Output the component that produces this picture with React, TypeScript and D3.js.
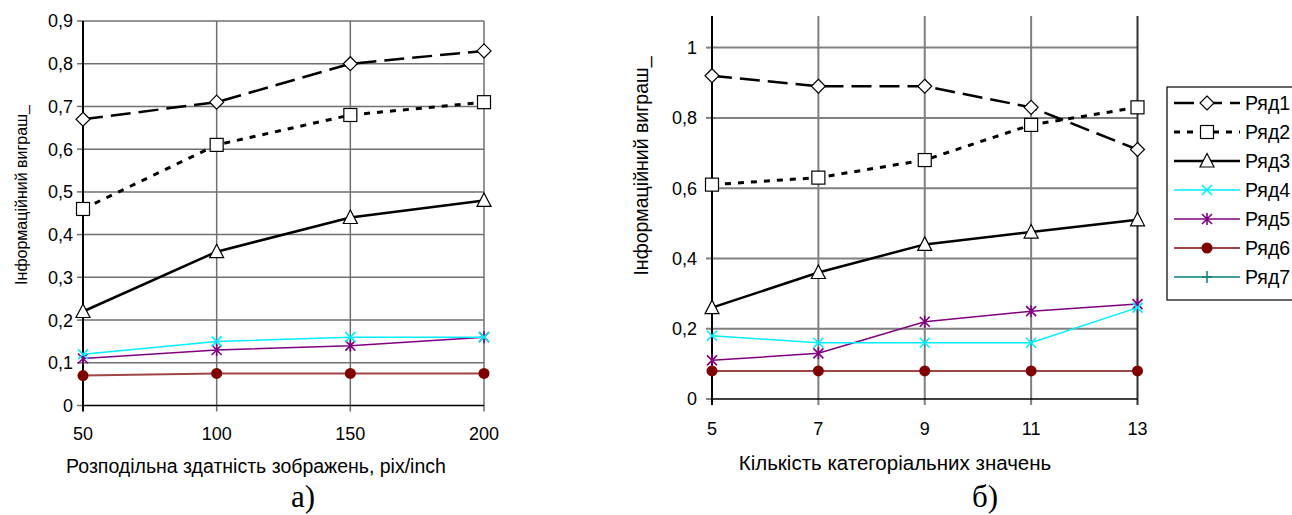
import React from "react";
import * as d3 from "d3";

// left chart: resolution, pix/inch
const resolution = [50, 100, 150, 200];
const leftRow1 = [0.67, 0.71, 0.8, 0.83];
const leftRow2 = [0.46, 0.61, 0.68, 0.71];
const leftRow3 = [0.22, 0.36, 0.44, 0.48];
const leftRow4 = [0.12, 0.15, 0.16, 0.16];
const leftRow5 = [0.11, 0.13, 0.14, 0.16];
const leftRow6 = [0.07, 0.075, 0.075, 0.075];
const leftYTicks = [0, 0.1, 0.2, 0.3, 0.4, 0.5, 0.6, 0.7, 0.8, 0.9];

// right chart: number of categorical values
const categories = [5, 7, 9, 11, 13];
const rightRow1 = [0.92, 0.89, 0.89, 0.83, 0.71];
const rightRow2 = [0.61, 0.63, 0.68, 0.78, 0.83];
const rightRow3 = [0.26, 0.36, 0.44, 0.475, 0.51];
const rightRow4 = [0.18, 0.16, 0.16, 0.16, 0.26];
const rightRow5 = [0.11, 0.13, 0.22, 0.25, 0.27];
const rightRow6 = [0.08, 0.08, 0.08, 0.08, 0.08];
const rightYTicks = [0, 0.2, 0.4, 0.6, 0.8, 1];

const seriesNames = ["Ряд1", "Ряд2", "Ряд3", "Ряд4", "Ряд5", "Ряд6", "Ряд7"];

const SANS = "'Liberation Sans', Arial, sans-serif";
const SERIF = "'Liberation Serif', 'Times New Roman', serif";

type Style = { color: string; width: number; dash?: string; marker: string };

const STYLES: Style[] = [
  { color: "#000", width: 2.5, dash: "20 8", marker: "diamond" },
  { color: "#000", width: 3, dash: "6 7", marker: "square" },
  { color: "#000", width: 2.5, marker: "triangle" },
  { color: "#00eeff", width: 1.5, marker: "x" },
  { color: "#800080", width: 1.5, marker: "star" },
  { color: "#a04444", width: 2, marker: "dot" },
  { color: "#008080", width: 1.5, marker: "plus" },
];

const fmt = (v: number) => String(+v.toFixed(2)).replace(".", ",");

function Marker({ type, x, y }: { type: string; x: number; y: number }) {
  const t = `translate(${x},${y})`;
  if (type === "diamond")
    return <path transform={t} d="M0,-7L7,0L0,7L-7,0Z" fill="#fff" stroke="#000" strokeWidth={1.2} />;
  if (type === "square")
    return <rect transform={t} x={-6.5} y={-6.5} width={13} height={13} fill="#fff" stroke="#000" strokeWidth={1.2} />;
  if (type === "triangle")
    return <path transform={t} d="M0,-7.5L7,6L-7,6Z" fill="#fff" stroke="#000" strokeWidth={1.2} />;
  if (type === "x")
    return <path transform={t} d="M-5,-5L5,5M-5,5L5,-5" stroke="#00eeff" strokeWidth={1.6} />;
  if (type === "star")
    return <path transform={t} d="M-5,-5L5,5M-5,5L5,-5M0,-6L0,6" stroke="#800080" strokeWidth={1.6} />;
  if (type === "dot") return <circle transform={t} r={5.5} fill="#800000" />;
  return <path transform={t} d="M-5,0L5,0M0,-6L0,6" stroke="#008080" strokeWidth={1.5} />;
}

type PanelProps = {
  xs: number[];
  rows: number[][];
  yTicks: number[];
  xRange: [number, number];
  yRange: [number, number]; // pixel of y=0 and y=yMaxTick
  yTop: number; // top of vertical grid lines
  grid: string;
  gridW: number;
  rightEdge: string;
  labelRight: number;
  xLabelY: number;
  fontSize: number;
};

function Panel(p: PanelProps) {
  const x = d3.scaleLinear().domain([p.xs[0], p.xs[p.xs.length - 1]]).range(p.xRange);
  const yMax = p.yTicks[p.yTicks.length - 1];
  const y = d3.scaleLinear().domain([0, yMax]).range(p.yRange);
  const x0 = p.xRange[0];
  const x1 = p.xRange[1];
  const yBottom = y(0);
  return (
    <g>
      {/* horizontal grid */}
      {p.yTicks.filter((t) => t > 0).map((t) => (
        <line key={"h" + t} x1={x0} x2={x1} y1={y(t)} y2={y(t)} stroke={p.grid} strokeWidth={p.gridW} />
      ))}
      {/* vertical grid */}
      {p.xs.slice(1).map((v, i) => (
        <line key={"v" + v} x1={x(v)} x2={x(v)} y1={p.yTop} y2={yBottom + 6}
          stroke={i === p.xs.length - 2 ? p.rightEdge : p.grid} strokeWidth={p.gridW} />
      ))}
      {/* y tick marks */}
      {p.yTicks.map((t) => (
        <line key={"yt" + t} x1={x0 - 6} x2={x0} y1={y(t)} y2={y(t)} stroke={p.grid} strokeWidth={p.gridW} />
      ))}
      {/* axes */}
      <line x1={x0} x2={x1} y1={yBottom} y2={yBottom} stroke="#000" strokeWidth={1.6} />
      <line x1={x0} x2={x0} y1={p.yTop} y2={yBottom + 6} stroke="#000" strokeWidth={2} />
      {/* tick labels */}
      {p.yTicks.map((t) => (
        <text key={"yl" + t} x={p.labelRight} y={y(t)} dy="0.36em" textAnchor="end"
          fontFamily={SANS} fontSize={p.fontSize}>{fmt(t)}</text>
      ))}
      {p.xs.map((v) => (
        <text key={"xl" + v} x={x(v)} y={p.xLabelY} textAnchor="middle"
          fontFamily={SANS} fontSize={p.fontSize}>{v}</text>
      ))}
      {/* series, drawn bottom-up so black lines sit on top */}
      {p.rows.map((row, si) => ({ row, si })).reverse().map(({ row, si }) => {
        const st = STYLES[si];
        const line = d3.line<number>().x((_, i) => x(p.xs[i])).y((d) => y(d));
        return (
          <g key={"s" + si}>
            <path d={line(row) || ""} fill="none" stroke={st.color} strokeWidth={st.width}
              strokeDasharray={st.dash} />
            {row.map((d, i) => (
              <Marker key={i} type={st.marker} x={x(p.xs[i])} y={y(d)} />
            ))}
          </g>
        );
      })}
    </g>
  );
}

function Legend({ left, top, step }: { left: number; top: number; step: number }) {
  return (
    <g>
      <rect x={left} y={top} width={140} height={step * seriesNames.length + 10} fill="#fff" stroke="#000" strokeWidth={1.2} />
      {seriesNames.map((name, i) => {
        const st = STYLES[i];
        const cy = top + 16 + i * step;
        return (
          <g key={name}>
            <line x1={left + 7} x2={left + 73} y1={cy} y2={cy} stroke={st.color}
              strokeWidth={st.width} strokeDasharray={st.dash} />
            <Marker type={st.marker} x={left + 40} y={cy} />
            <text x={left + 78} y={cy} dy="0.36em" fontFamily={SANS} fontSize={19.5}>{name}</text>
          </g>
        );
      })}
    </g>
  );
}

export default function App() {
  const yTitle = "Інформаційний виграш_";
  return (
    <svg width={1292} height={515} style={{ position: "absolute", left: 0, top: 0, background: "#fff" }}>
      <Panel
        xs={resolution}
        rows={[leftRow1, leftRow2, leftRow3, leftRow4, leftRow5, leftRow6]}
        yTicks={leftYTicks}
        xRange={[83, 484]}
        yRange={[405.5, 21]}
        yTop={21}
        grid="#707070"
        gridW={1.5}
        rightEdge="#707070"
        labelRight={73}
        xLabelY={440}
        fontSize={18}
      />
      <text transform="translate(27,195) rotate(-90)" textAnchor="middle" fontFamily={SANS} fontSize={16}>{yTitle}</text>
      <text x={256} y={473} textAnchor="middle" fontFamily={SANS} fontSize={19.5}>
        Розподільна здатність зображень, pix/inch
      </text>
      <text x={303} y={507} textAnchor="middle" fontFamily={SERIF} fontSize={31}>а)</text>

      <Panel
        xs={categories}
        rows={[rightRow1, rightRow2, rightRow3, rightRow4, rightRow5, rightRow6]}
        yTicks={rightYTicks}
        xRange={[712, 1137.5]}
        yRange={[399, 47.6]}
        yTop={16}
        grid="#808080"
        gridW={2}
        rightEdge="#333"
        labelRight={697}
        xLabelY={435}
        fontSize={18}
      />
      <text transform="translate(648,166) rotate(-90)" textAnchor="middle" fontFamily={SANS} fontSize={19.5}>{yTitle}</text>
      <text x={895} y={470} textAnchor="middle" fontFamily={SANS} fontSize={20.5}>
        Кількість категоріальних значень
      </text>
      <text x={985} y={507} textAnchor="middle" fontFamily={SERIF} fontSize={31}>б)</text>

      <Legend left={1167} top={87} step={29} />
    </svg>
  );
}
